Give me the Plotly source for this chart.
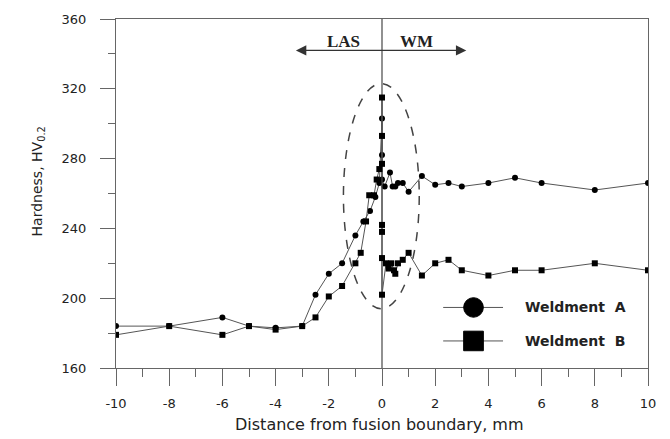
import plotly.graph_objects as go

# Weldment A (circles)
a_x = [-10, -8, -6, -5, -4, -3, -2.5, -2, -1.5, -1, -0.7, -0.45, -0.25, -0.1, 0, 0, 0,
       0.1, 0.3, 0.4, 0.5, 0.6, 0.78, 1.0, 1.5, 2, 2.5, 3, 4, 5, 6, 8, 10]
a_y = [184, 184, 189, 184, 183, 184, 202, 214, 220, 236, 244, 250, 258, 266, 303, 282, 268,
       264, 272, 264, 264, 266, 266, 261, 270, 265, 266, 264, 266, 269, 266, 262, 266]

# Weldment B (squares)
b_x = [-10, -8, -6, -5, -4, -3, -2.5, -2, -1.5, -1, -0.8, -0.6, -0.48, -0.3, -0.2, -0.1,
       0, 0, 0, 0, 0, 0, 0, 0.15, 0.25, 0.35, 0.45, 0.5, 0.6, 0.78, 1.0,
       1.5, 2, 2.5, 3, 4, 5, 6, 8, 10]
b_y = [179, 184, 179, 184, 182, 184, 189, 201, 207, 220, 226, 244, 259, 259, 268, 274,
       277, 315, 293, 242, 238, 223, 202, 220, 217, 220, 216, 214, 220, 222, 226,
       213, 220, 222, 216, 213, 216, 216, 220, 216]

x_ticks = [-10, -8, -6, -4, -2, 0, 2, 4, 6, 8, 10]
y_ticks = [160, 200, 240, 280, 320, 360]
series_names = ["Weldment\u00a0\u00a0A", "Weldment\u00a0\u00a0B"]
zone_labels = ["LAS", "WM"]

LINE = "#555555"
AX = "#666666"
FONT = "DejaVu Sans"

fig = go.Figure()
fig.add_trace(go.Scatter(x=a_x, y=a_y, mode="lines+markers",
                         line=dict(color=LINE, width=1),
                         marker=dict(symbol="circle", size=6, color="black"),
                         name=series_names[0], showlegend=False))
fig.add_trace(go.Scatter(x=b_x, y=b_y, mode="lines+markers",
                         line=dict(color=LINE, width=1),
                         marker=dict(symbol="square", size=6, color="black"),
                         name=series_names[1], showlegend=False))

# fusion boundary line
fig.add_shape(type="line", x0=0, x1=0, y0=160, y1=360, xref="x", yref="y",
              line=dict(color=LINE, width=1.3), layer="below")
# dashed ellipse
fig.add_shape(type="circle", x0=-1.45, x1=1.4, y0=194, y1=323, xref="x", yref="y",
              line=dict(color="#444444", width=1.5, dash="dash"))

# double arrow
fig.add_annotation(x=3.17, y=342, ax=-3.35, ay=342, xref="x", yref="y",
                   axref="x", ayref="y", text=" ", showarrow=True,
                   arrowside="end+start", arrowhead=2, startarrowhead=2,
                   arrowsize=1.6, startarrowsize=1.6, arrowwidth=1.3,
                   arrowcolor="#333333", standoff=0, startstandoff=0)
fig.add_annotation(x=-1.46, y=347, xref="x", yref="y", text="<b>" + zone_labels[0] + "</b>",
                   showarrow=False, font=dict(family="Liberation Serif", size=17, color="#222"))
fig.add_annotation(x=1.31, y=347, xref="x", yref="y", text="<b>" + zone_labels[1] + "</b>",
                   showarrow=False, font=dict(family="Liberation Serif", size=17, color="#222"))

# legend (drawn manually)
for cy, sym, name in [(194.7, "circle", series_names[0]), (175.5, "rect", series_names[1])]:
    fig.add_shape(type="line", x0=2.30, x1=4.55, y0=cy, y1=cy, xref="x", yref="y",
                  line=dict(color=LINE, width=1))
    fig.add_shape(type=sym, x0=3.44 - 0.37, x1=3.44 + 0.37, y0=cy - 5.6, y1=cy + 5.6,
                  xref="x", yref="y", fillcolor="black", line=dict(color="black", width=1))
    fig.add_annotation(x=5.31, y=cy, xref="x", yref="y", text="<b>" + name + "</b>",
                       showarrow=False, xanchor="left",
                       font=dict(family=FONT, size=14, color="#222"))

# axis titles
fig.add_annotation(x=-0.167, y=0.535, xref="paper", yref="paper",
                   text="Hardness, HV<sub>0.2</sub>", textangle=-90, showarrow=False,
                   font=dict(family=FONT, size=14, color="#222"))
fig.add_annotation(x=0.496, y=-0.161, xref="paper", yref="paper",
                   text="Distance from fusion boundary, mm", showarrow=False,
                   yanchor="middle", font=dict(family=FONT, size=16, color="#222"))

fig.update_xaxes(range=[-10, 10], tickvals=x_ticks, ticktext=[str(v) for v in x_ticks],
                 ticks="outside", ticklen=17, tickwidth=1.2, tickcolor=AX,
                 minor=dict(dtick=1, ticks="outside", ticklen=8, tickcolor=AX, tickwidth=1.2),
                 showline=True, linecolor=AX, linewidth=1.3, mirror=True,
                 showgrid=False, zeroline=False, ticklabelstandoff=6,
                 tickfont=dict(family=FONT, size=13, color="#222"))
fig.update_yaxes(range=[160, 360], tickvals=y_ticks, ticktext=[str(v) for v in y_ticks],
                 ticks="outside", ticklen=15, tickwidth=1.2, tickcolor=AX,
                 minor=dict(dtick=20, ticks="outside", ticklen=7, tickcolor=AX, tickwidth=1.2),
                 showline=True, linecolor=AX, linewidth=1.3, mirror=True,
                 showgrid=False, zeroline=False, ticklabelstandoff=11,
                 tickfont=dict(family=FONT, size=13, color="#222"))

fig.update_layout(width=670, height=439, margin=dict(l=116, r=22, t=15, b=71),
                  plot_bgcolor="white", paper_bgcolor="white", showlegend=False)

fig.write_html("out.html", config={"displayModeBar": False},
               post_script="document.body.style.margin='0';document.body.style.overflow='hidden';")
